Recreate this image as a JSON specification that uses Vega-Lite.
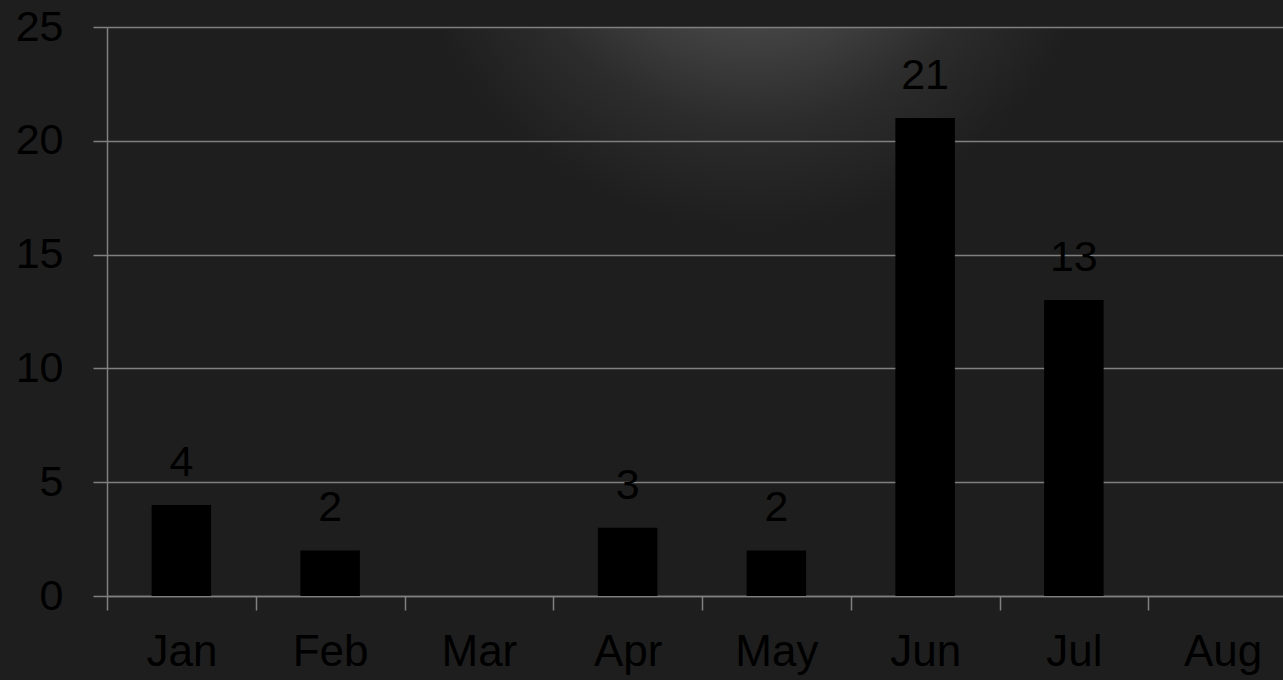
{
  "$schema": "https://vega.github.io/schema/vega-lite/v6.json",
  "width": 1176,
  "height": 569,
  "autosize": {"type": "none"},
  "padding": {"left": 107, "top": 27, "right": 0, "bottom": 84},
  "background": "#1e1e1e",
  "config": {
    "view": {"stroke": null},
    "font": "Liberation Sans"
  },
  "view": {
    "fill": {
      "gradient": "radial",
      "x1": 0.55, "y1": 0.13, "r1": 0,
      "x2": 0.55, "y2": 0.13, "r2": 0.3,
      "stops": [
        {"offset": 0, "color": "#6e6e6e"},
        {"offset": 0.35, "color": "#4a4a4a"},
        {"offset": 0.7, "color": "#2c2c2c"},
        {"offset": 1, "color": "#1e1e1e"}
      ]
    }
  },
  "data": {
    "values": [
      {"month": "Jan", "count": 4},
      {"month": "Feb", "count": 2},
      {"month": "Apr", "count": 3},
      {"month": "May", "count": 2},
      {"month": "Jun", "count": 21},
      {"month": "Jul", "count": 13}
    ]
  },
  "encoding": {
    "x": {
      "field": "month",
      "type": "nominal",
      "sort": null,
      "scale": {
        "domain": ["Jan", "Feb", "Mar", "Apr", "May", "Jun", "Jul", "Aug"],
        "range": [0, 1190],
        "paddingInner": 0,
        "paddingOuter": 0
      },
      "axis": {
        "title": null,
        "labelAngle": 0,
        "labelFontSize": 44,
        "labelColor": "#000000",
        "labelPadding": 20,
        "tickBand": "extent",
        "tickSize": 14,
        "tickColor": "#808080",
        "tickWidth": 1.5,
        "domainColor": "#808080",
        "domainWidth": 1.5,
        "grid": false
      }
    },
    "y": {
      "field": "count",
      "type": "quantitative",
      "scale": {"domain": [0, 25], "nice": false},
      "axis": {
        "title": null,
        "values": [0, 5, 10, 15, 20, 25],
        "labelFontSize": 43,
        "labelColor": "#000000",
        "labelPadding": 30,
        "tickSize": 14,
        "tickColor": "#808080",
        "tickWidth": 1.5,
        "domainColor": "#808080",
        "domainWidth": 1.5,
        "grid": true,
        "gridColor": "#808080",
        "gridWidth": 1.5,
        "gridOpacity": 1
      }
    }
  },
  "layer": [
    {"mark": {"type": "bar", "color": "#000000", "width": {"band": 0.4}}},
    {
      "mark": {"type": "text", "baseline": "bottom", "dy": -20, "fontSize": 43, "color": "#000000"},
      "encoding": {"text": {"field": "count", "type": "quantitative"}}
    }
  ]
}
